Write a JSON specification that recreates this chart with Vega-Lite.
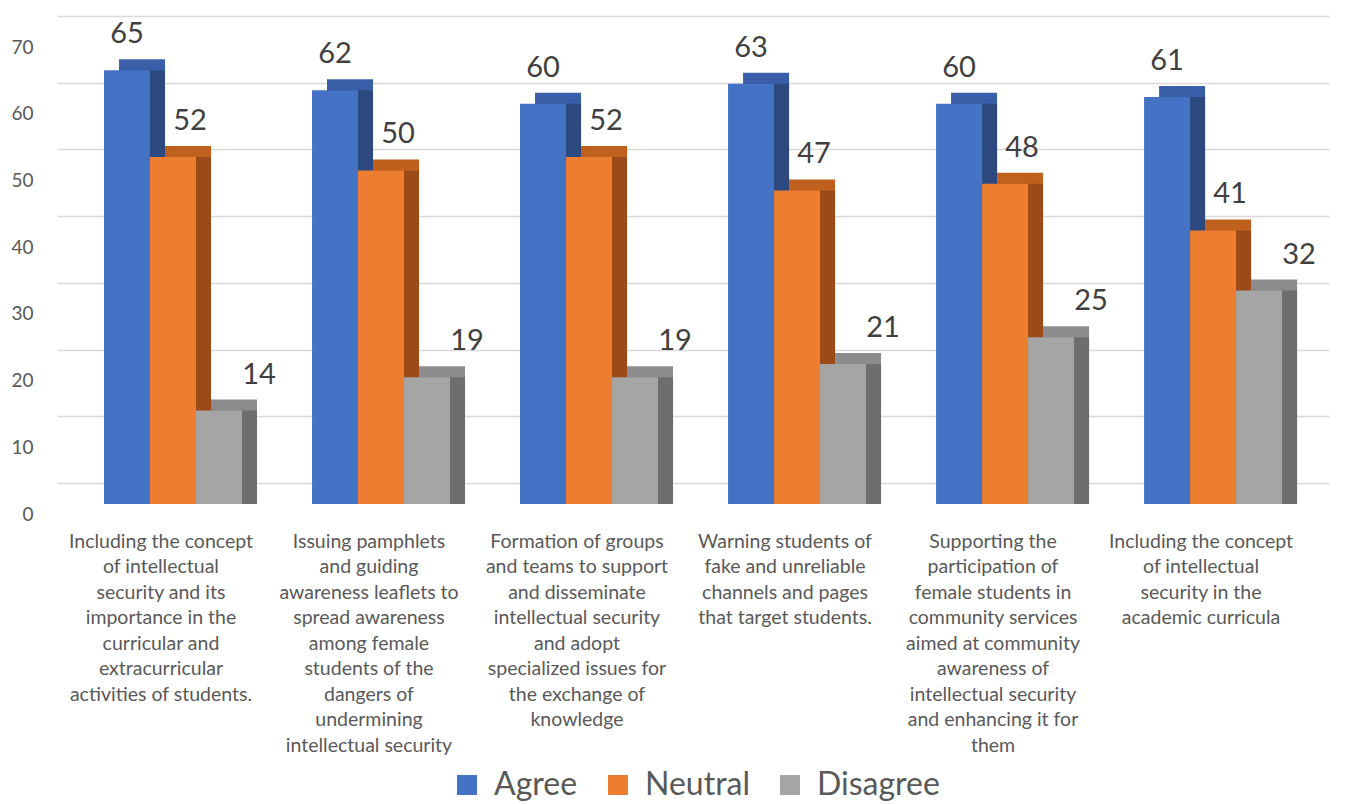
{
  "$schema": "https://vega.github.io/schema/vega-lite/v6.json",
  "autosize": "none",
  "width": 1272,
  "height": 467,
  "padding": {"left": 57, "top": 37, "right": 20, "bottom": 300},
  "config": {"view": {"stroke": null}, "font": "Lato"},
  "data": {"values": [
    {"item": "Including the concept|of intellectual|security and its|importance in the|curricular and|extracurricular|activities of students.", "series": "Agree", "value": 65},
    {"item": "Including the concept|of intellectual|security and its|importance in the|curricular and|extracurricular|activities of students.", "series": "Neutral", "value": 52},
    {"item": "Including the concept|of intellectual|security and its|importance in the|curricular and|extracurricular|activities of students.", "series": "Disagree", "value": 14},
    {"item": "Issuing pamphlets|and guiding|awareness leaflets to|spread awareness|among female|students of the|dangers of|undermining|intellectual security", "series": "Agree", "value": 62},
    {"item": "Issuing pamphlets|and guiding|awareness leaflets to|spread awareness|among female|students of the|dangers of|undermining|intellectual security", "series": "Neutral", "value": 50},
    {"item": "Issuing pamphlets|and guiding|awareness leaflets to|spread awareness|among female|students of the|dangers of|undermining|intellectual security", "series": "Disagree", "value": 19},
    {"item": "Formation of groups|and teams to support|and disseminate|intellectual security|and adopt|specialized issues for|the exchange of|knowledge", "series": "Agree", "value": 60},
    {"item": "Formation of groups|and teams to support|and disseminate|intellectual security|and adopt|specialized issues for|the exchange of|knowledge", "series": "Neutral", "value": 52},
    {"item": "Formation of groups|and teams to support|and disseminate|intellectual security|and adopt|specialized issues for|the exchange of|knowledge", "series": "Disagree", "value": 19},
    {"item": "Warning students of|fake and unreliable|channels and pages|that target students.", "series": "Agree", "value": 63},
    {"item": "Warning students of|fake and unreliable|channels and pages|that target students.", "series": "Neutral", "value": 47},
    {"item": "Warning students of|fake and unreliable|channels and pages|that target students.", "series": "Disagree", "value": 21},
    {"item": "Supporting the|participation of|female students in|community services|aimed at community|awareness of|intellectual security|and enhancing it for|them", "series": "Agree", "value": 60},
    {"item": "Supporting the|participation of|female students in|community services|aimed at community|awareness of|intellectual security|and enhancing it for|them", "series": "Neutral", "value": 48},
    {"item": "Supporting the|participation of|female students in|community services|aimed at community|awareness of|intellectual security|and enhancing it for|them", "series": "Disagree", "value": 25},
    {"item": "Including the concept|of intellectual|security in the|academic curricula", "series": "Agree", "value": 61},
    {"item": "Including the concept|of intellectual|security in the|academic curricula", "series": "Neutral", "value": 41},
    {"item": "Including the concept|of intellectual|security in the|academic curricula", "series": "Disagree", "value": 32}
  ]},
  "encoding": {
    "x": {
      "field": "item", "type": "nominal", "sort": null, "title": null,
      "scale": {"paddingInner": 0.337, "paddingOuter": 0.226},
      "axis": {
        "labelExpr": "split(datum.value, '|')",
        "labelAngle": 0, "labelLimit": 0, "labelFontSize": 19.5, "labelLineHeight": 25.5,
        "labelColor": "#595959", "labelPadding": 28, "labelOffset": -12,
        "domain": false, "ticks": false, "labelBaseline": "top"
      }
    },
    "y": {
      "field": "value", "type": "quantitative", "title": null,
      "scale": {"domain": [0, 70], "nice": false},
      "axis": {
        "values": [0, 10, 20, 30, 40, 50, 60, 70],
        "tickOffset": -21, "labelOffset": 31,
        "grid": true, "gridColor": "#d9d9d9", "gridWidth": 1.5,
        "domain": false, "ticks": false,
        "labelFontSize": 19, "labelColor": "#595959", "labelPadding": 24
      }
    }
  },
  "layer": [
    {
      "mark": {"type": "bar", "yOffset": -11, "y2Offset": -11},
      "encoding": {
        "xOffset": {"field": "series", "type": "nominal", "scale": {"domain": ["Agree", "Neutral", "Disagree"], "paddingInner": 0, "paddingOuter": 0, "range": [15, 153]}},
        "color": {"field": "series", "type": "nominal", "legend": null,
          "scale": {"domain": ["Agree", "Neutral", "Disagree"], "range": ["#3A5FA8", "#C0601F", "#8C8C8C"]}}
      }
    },
    {
      "mark": {"type": "bar", "y2Offset": -11},
      "encoding": {
        "xOffset": {"field": "series", "type": "nominal", "scale": {"domain": ["Agree", "Neutral", "Disagree"], "paddingInner": 0, "paddingOuter": 0, "range": [15, 153]}},
        "color": {"field": "series", "type": "nominal", "legend": null,
          "scale": {"domain": ["Agree", "Neutral", "Disagree"], "range": ["#2C4A80", "#9C4A18", "#6E6E6E"]}}
      }
    },
    {
      "mark": {"type": "bar"},
      "encoding": {
        "xOffset": {"field": "series", "type": "nominal", "scale": {"domain": ["Agree", "Neutral", "Disagree"], "paddingInner": 0, "paddingOuter": 0, "range": [0, 138]}},
        "color": {"field": "series", "type": "nominal",
          "scale": {"domain": ["Agree", "Neutral", "Disagree"], "range": ["#4472C4", "#ED7D31", "#A5A5A5"]},
          "legend": {
            "title": null, "orient": "none", "legendX": 394, "legendY": 732, "direction": "horizontal",
            "symbolType": "square", "symbolSize": 400, "symbolStrokeWidth": 0,
            "labelFontSize": 32, "labelColor": "#595959", "labelOffset": 11,
            "columnPadding": 24
          }
        }
      }
    },
    {
      "transform": [{"filter": "datum.series === 'Agree'"}],
      "mark": {"type": "text", "baseline": "alphabetic", "dy": -27, "dx": 23, "fontSize": 29, "color": "#404040"},
      "encoding": {
        "xOffset": {"field": "series", "type": "nominal", "scale": {"domain": ["Agree", "Neutral", "Disagree"], "paddingInner": 0, "paddingOuter": 0, "range": [0, 138]}},
        "text": {"field": "value", "type": "quantitative"}
      }
    },
    {
      "transform": [{"filter": "datum.series !== 'Agree'"}],
      "mark": {"type": "text", "baseline": "alphabetic", "dy": -27, "dx": 17, "fontSize": 29, "color": "#404040"},
      "encoding": {
        "xOffset": {"field": "series", "type": "nominal", "scale": {"domain": ["Agree", "Neutral", "Disagree"], "paddingInner": 0, "paddingOuter": 0, "range": [0, 138]}},
        "text": {"field": "value", "type": "quantitative"}
      }
    }
  ],
  "resolve": {"scale": {"color": "independent", "xOffset": "independent"}}
}
